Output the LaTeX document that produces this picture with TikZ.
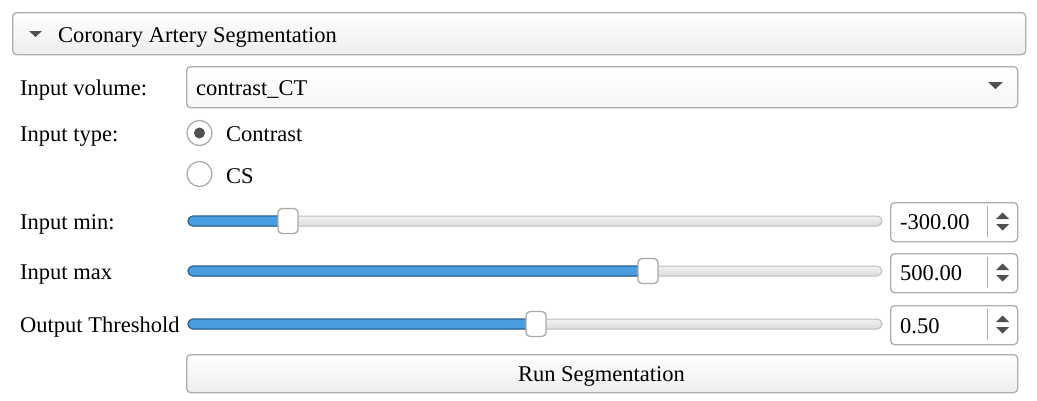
\documentclass[tikz,border=0pt]{standalone}
\usepackage{fontspec}
\setmainfont{Liberation Serif}
\newcommand\uitext{\fontsize{22.5}{27}\selectfont}
\definecolor{frame}{HTML}{ADADAD}
\definecolor{knobline}{HTML}{A9A9A9}
\definecolor{trackbg}{HTML}{E3E3E3}
\definecolor{trackline}{HTML}{BDBDBD}
\definecolor{fillblue}{HTML}{4A9EDF}
\definecolor{edgeblue}{HTML}{2C6896}
\definecolor{glyph}{HTML}{505050}
\tikzset{
  widget/.style={draw=frame, line width=1.3pt, rounded corners=4pt, inner sep=0pt, anchor=north west},
  raised/.style={widget, top color=white, bottom color=black!7},
  field/.style={widget, fill=white},
  label/.style={inner sep=0pt, anchor=base west, font=\uitext},
  track/.style={draw=trackline, line width=1pt, top color=black!5, bottom color=black!14, rounded corners=5pt},
  level/.style={draw=edgeblue, line width=1.3pt, fill=fillblue, rounded corners=5pt},
  knob/.style={draw=knobline, line width=1.3pt, fill=white, rounded corners=4pt, minimum width=20, minimum height=25, inner sep=0pt},
  radio/.style={circle, draw=frame, line width=1.3pt, fill=white, minimum size=25, inner sep=0pt}
}
\begin{document}
\begin{tikzpicture}[x=1pt, y=-1pt]
  \useasboundingbox (0,0) rectangle (1037,400);
  % header bar
  \node [raised, minimum width=1013, minimum height=42] (hdr) at (12,12) {};
  \fill [glyph] (29,31) -- (42,31) -- (35.5,37) -- cycle;
  \node [label] (hdrtext) at (58,42) {Coronary Artery Segmentation};
  % input volume
  \node [label] (vollabel) at (20,95) {Input volume:};
  \node [raised, top color=white, bottom color=black!3, minimum width=831, minimum height=41] (volbox) at (186,66) {};
  \node [label] (voltext) at (196,95) {contrast\_CT};
  \fill [glyph] (988,82) -- (1003,82) -- (995.5,89) -- cycle;
  % input type
  \node [label] (typelabel) at (20,141) {Input type:};
  \node [radio] (radioct) at (199.5,133) {};
  \fill [glyph] (radioct) circle (5.5);
  \node [label] (ctext) at (226,141) {Contrast};
  \node [radio] (radiocs) at (199.5,174) {};
  \node [label] (cstext) at (226,183) {CS};
  % input min
  \node [label] (minlabel) at (20,229) {Input min:};
  \draw [track] (188,216) rectangle (882,226);
  \draw [level] (188,216) rectangle (290,226);
  \node [knob] (minknob) at (288,221) {};
  \node [field, minimum width=127, minimum height=39] (minspin) at (890,202) {};
  \node [label] (minval) at (900,229) {-300.00};
  \draw [frame, line width=1pt] (987.5,206) -- (987.5,237);
  \fill [glyph] (996,219) -- (1009,219) -- (1002.5,212.5) -- cycle;
  \fill [glyph] (996,224) -- (1009,224) -- (1002.5,230.5) -- cycle;
  % input max
  \node [label] (maxlabel) at (20,279) {Input max};
  \draw [track] (188,266) rectangle (882,276);
  \draw [level] (188,266) rectangle (650,276);
  \node [knob] (maxknob) at (648,271) {};
  \node [field, minimum width=127, minimum height=39] (maxspin) at (890,253) {};
  \node [label] (maxval) at (900,280) {500.00};
  \draw [frame, line width=1pt] (987.5,257) -- (987.5,288);
  \fill [glyph] (996,270) -- (1009,270) -- (1002.5,263.5) -- cycle;
  \fill [glyph] (996,275) -- (1009,275) -- (1002.5,281.5) -- cycle;
  % output threshold
  \node [label] (thrlabel) at (20,332) {Output Threshold};
  \draw [track] (188,319) rectangle (882,329);
  \draw [level] (188,319) rectangle (538,329);
  \node [knob] (thrknob) at (536,324) {};
  \node [field, minimum width=127, minimum height=39] (thrspin) at (890,305) {};
  \node [label] (thrval) at (900,333) {0.50};
  \draw [frame, line width=1pt] (987.5,309) -- (987.5,340);
  \fill [glyph] (996,322) -- (1009,322) -- (1002.5,315.5) -- cycle;
  \fill [glyph] (996,327) -- (1009,327) -- (1002.5,333.5) -- cycle;
  % run button
  \node [raised, minimum width=831, minimum height=38] (runbtn) at (186,354) {};
  \node [label, anchor=base] (runtext) at (601.5,381) {Run Segmentation};
\end{tikzpicture}
\end{document}
